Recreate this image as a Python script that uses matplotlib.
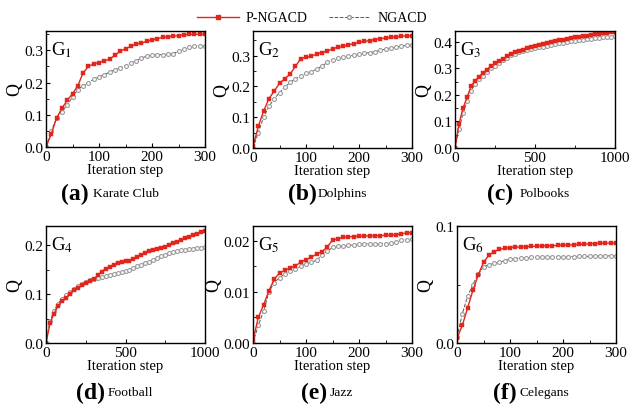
import matplotlib
matplotlib.use("Agg")
import matplotlib.pyplot as plt
from matplotlib.lines import Line2D
from matplotlib.ticker import MultipleLocator

plt.rcParams['font.family'] = ['Liberation Serif', 'DejaVu Serif']
plt.rcParams['mathtext.fontset'] = 'stix'

# iteration grids
steps_300 = list(range(0, 301, 10))
steps_1000 = list(range(0, 1001, 25))

# (a) Karate Club
karate_p = [0.0, 0.04, 0.09, 0.12, 0.145, 0.165, 0.19, 0.23, 0.25, 0.258, 0.262,
            0.268, 0.272, 0.285, 0.297, 0.305, 0.312, 0.32, 0.322, 0.328, 0.333,
            0.336, 0.34, 0.342, 0.344, 0.346, 0.348, 0.35, 0.35, 0.35, 0.35]
karate_n = [0.0, 0.05, 0.09, 0.11, 0.13, 0.155, 0.178, 0.19, 0.2, 0.21, 0.217,
            0.225, 0.232, 0.24, 0.245, 0.252, 0.26, 0.268, 0.276, 0.282, 0.285,
            0.286, 0.287, 0.288, 0.29, 0.297, 0.305, 0.31, 0.312, 0.313, 0.315]

# (b) Dolphins
dolphins_p = [0.005, 0.07, 0.12, 0.16, 0.185, 0.21, 0.225, 0.24, 0.265, 0.29, 0.295,
              0.298, 0.305, 0.31, 0.315, 0.322, 0.327, 0.33, 0.335, 0.339, 0.343,
              0.346, 0.349, 0.352, 0.355, 0.357, 0.359, 0.361, 0.363, 0.364, 0.365]
dolphins_n = [0.0, 0.05, 0.1, 0.135, 0.16, 0.18, 0.198, 0.213, 0.225, 0.235, 0.242,
              0.248, 0.256, 0.266, 0.278, 0.287, 0.292, 0.295, 0.298, 0.301, 0.304,
              0.307, 0.31, 0.313, 0.317, 0.321, 0.325, 0.328, 0.331, 0.333, 0.335]

# (c) Polbooks
polbooks_p = [0.0, 0.09, 0.15, 0.19, 0.232, 0.252, 0.268, 0.282, 0.295, 0.308, 0.318,
              0.326, 0.335, 0.345, 0.355, 0.36, 0.365, 0.37, 0.375, 0.38, 0.385,
              0.388, 0.392, 0.395, 0.399, 0.402, 0.405, 0.408, 0.41, 0.413, 0.416,
              0.419, 0.421, 0.423, 0.425, 0.427, 0.429, 0.431, 0.433, 0.435, 0.437]
polbooks_n = [0.0, 0.07, 0.13, 0.175, 0.215, 0.24, 0.258, 0.272, 0.287, 0.3, 0.31,
              0.32, 0.33, 0.34, 0.35, 0.355, 0.36, 0.364, 0.368, 0.372, 0.375,
              0.378, 0.381, 0.384, 0.387, 0.39, 0.393, 0.396, 0.399, 0.401, 0.403,
              0.405, 0.407, 0.409, 0.411, 0.413, 0.415, 0.417, 0.418, 0.419, 0.42]

# (d) Football
football_p = [0.0, 0.04, 0.06, 0.075, 0.085, 0.092, 0.1, 0.108, 0.113, 0.118, 0.122,
              0.126, 0.13, 0.138, 0.146, 0.152, 0.156, 0.16, 0.163, 0.165, 0.167,
              0.168, 0.171, 0.175, 0.18, 0.184, 0.187, 0.19, 0.193, 0.195, 0.197,
              0.2, 0.204, 0.207, 0.211, 0.214, 0.217, 0.22, 0.223, 0.226, 0.228]
football_n = [0.0, 0.045, 0.065, 0.08, 0.09, 0.098, 0.105, 0.11, 0.116, 0.12, 0.124,
              0.128, 0.131, 0.133, 0.135, 0.137, 0.139, 0.14, 0.142, 0.145, 0.147,
              0.15, 0.154, 0.157, 0.16, 0.163, 0.166, 0.17, 0.174, 0.177, 0.18,
              0.183, 0.185, 0.187, 0.189, 0.19, 0.192, 0.193, 0.194, 0.195, 0.196]

# (e) Jazz
jazz_p = [0.0005, 0.005, 0.0075, 0.0102, 0.0125, 0.0137, 0.0142, 0.0147, 0.0151, 0.0158,
          0.0163, 0.0168, 0.0174, 0.0178, 0.0188, 0.0201, 0.0204, 0.0207, 0.0208, 0.0208,
          0.0209, 0.0209, 0.021, 0.021, 0.021, 0.0211, 0.0211, 0.0212, 0.0214, 0.0215, 0.0216]
jazz_n = [0.0, 0.0035, 0.0062, 0.0100, 0.0118, 0.0128, 0.0135, 0.014, 0.0145, 0.015,
          0.0155, 0.0158, 0.0162, 0.0172, 0.018, 0.0187, 0.0189, 0.019, 0.0191, 0.0192,
          0.0193, 0.0194, 0.0194, 0.0194, 0.0194, 0.0194, 0.0195, 0.0198, 0.0201, 0.0202, 0.0203]

# (f) Celegans
celegans_p = [0.004, 0.015, 0.03, 0.045, 0.058, 0.069, 0.075, 0.078, 0.08, 0.081, 0.0815,
              0.082, 0.082, 0.0823, 0.0825, 0.0828, 0.083, 0.083, 0.0832, 0.0834, 0.0836,
              0.0838, 0.084, 0.0842, 0.0845, 0.0848, 0.085, 0.0852, 0.0853, 0.0854, 0.0855]
celegans_n = [0.005, 0.025, 0.04, 0.05, 0.059, 0.065, 0.067, 0.068, 0.069, 0.0705, 0.0715,
              0.0722, 0.0728, 0.073, 0.0731, 0.0732, 0.0733, 0.0734, 0.0735, 0.0736, 0.0737,
              0.0738, 0.0739, 0.074, 0.074, 0.0741, 0.0742, 0.0743, 0.0744, 0.0745, 0.0745]

RED = '#e3261b'
GREY = '#9a9a9a'

panels = [
    # rect(px), x, p, n, xlim, xmaj, xmin, ylim, ymaj, ymin, yfmt, G, tag, name, tag right, name left, caption y
    ([46, 32, 159, 116], steps_300, karate_p, karate_n, 300, 100, 50, 0.36, 0.1, 0.05, '%.1f', '1', '(a)', 'Karate Club', 89, 93, 194),
    ([253, 32, 159, 117], steps_300, dolphins_p, dolphins_n, 300, 100, 50, 0.38, 0.1, 0.05, '%.1f', '2', '(b)', 'Dolphins', 317, 318, 194),
    ([455, 32, 160, 117], steps_1000, polbooks_p, polbooks_n, 1000, 500, 250, 0.44, 0.1, 0.05, '%.1f', '3', '(c)', 'Polbooks', 513, 520, 194),
    ([46, 227, 159, 117], steps_1000, football_p, football_n, 1000, 500, 250, 0.239, 0.1, 0.05, '%.1f', '4', '(d)', 'Football', 105, 108, 393),
    ([253, 227, 159, 117], steps_300, jazz_p, jazz_n, 300, 100, 50, 0.0229, 0.01, 0.005, '%.2f', '5', '(e)', 'Jazz', 327, 330, 393),
    ([457, 227, 159, 117], steps_300, celegans_p, celegans_n, 300, 100, 50, 0.1, 0.1, 0.05, '%.1f', '6', '(f)', 'Celegans', 517, 520, 393),
]

W, H = 630, 406
fig = plt.figure(figsize=(6.3, 4.06), dpi=100)

for (rect, xs, p, n, xmax, xmaj, xmin, ymax, ymaj, ymin, yfmt, g, tag, name, tx, nx, cy) in panels:
    l, t, w, h = rect
    ax = fig.add_axes([l / W, 1 - (t + h) / H, w / W, h / H])
    ax.plot(xs, n, linestyle='--', color='#555555', linewidth=0.7,
            marker='o', markersize=2.8, markerfacecolor='white',
            markeredgecolor=GREY, markeredgewidth=0.8)
    ax.plot(xs, p, linestyle='-', color=RED, linewidth=1.0,
            marker='s', markersize=2.8, markerfacecolor=RED,
            markeredgecolor=RED, markeredgewidth=0.3)
    ax.set_xlim(0, xmax)
    ax.set_ylim(0, ymax)
    ax.xaxis.set_major_locator(MultipleLocator(xmaj))
    ax.xaxis.set_minor_locator(MultipleLocator(xmin))
    ax.yaxis.set_major_locator(MultipleLocator(ymaj))
    ax.yaxis.set_minor_locator(MultipleLocator(ymin))
    ax.yaxis.set_major_formatter(matplotlib.ticker.FormatStrFormatter(yfmt))
    ax.tick_params(which='both', direction='in', labelsize=11, pad=2)
    ax.tick_params(which='major', length=3, width=0.8)
    ax.tick_params(which='minor', length=2, width=0.6)
    for s in ax.spines.values():
        s.set_linewidth(1.0)
    ax.set_xlabel('Iteration step', fontsize=10.5, labelpad=0)
    ax.set_ylabel('Q', fontsize=13, labelpad=1)
    ax.text(0.03, 0.93, 'G$_{%s}$' % g, transform=ax.transAxes,
            fontsize=13.5, va='top', ha='left')
    fig.text(tx / W, 1 - cy / H, tag, fontsize=17, fontweight='bold',
             ha='right', va='center')
    fig.text(nx / W, 1 - cy / H, name, fontsize=9.7, ha='left', va='center')

handles = [
    Line2D([], [], color=RED, linewidth=1.0, marker='s', markersize=2.8,
           markerfacecolor=RED, markeredgecolor=RED),
    Line2D([], [], color='#555555', linestyle='--', linewidth=0.7, marker='o',
           markersize=2.8, markerfacecolor='white', markeredgecolor=GREY),
]
fig.legend(handles, ['P-NGACD', 'NGACD'], loc='center', ncol=2,
           bbox_to_anchor=(312 / W, 1 - 19 / H), frameon=False,
           fontsize=10, handlelength=3.0, columnspacing=1.5, handletextpad=0.5)

fig.savefig('out.png', dpi=100)
